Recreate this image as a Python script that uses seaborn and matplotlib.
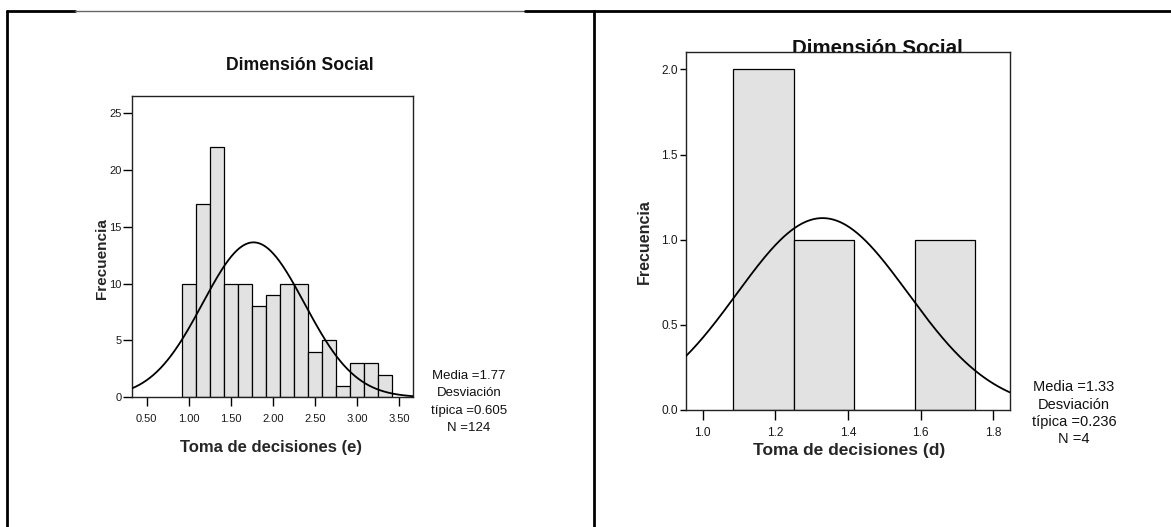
import numpy as np
import pandas as pd
import matplotlib
matplotlib.use("Agg")
import matplotlib.pyplot as plt
from matplotlib.lines import Line2D
import seaborn as sns

# ---- data -------------------------------------------------------------
# Panel (e): score values (bin midpoints) and their frequencies
e_values = [1.00, 1.17, 1.33, 1.50, 1.67, 1.83, 2.00, 2.17, 2.33, 2.50,
            2.67, 2.83, 3.00, 3.17, 3.33]
e_counts = [10, 17, 22, 10, 10, 8, 9, 10, 10, 4, 5, 1, 3, 3, 2]
e_mean, e_sd, e_n = 1.77, 0.605, 124
e_xticks = [0.50, 1.00, 1.50, 2.00, 2.50, 3.00, 3.50]
e_yticks = [0, 5, 10, 15, 20, 25]

# Panel (d): individual scores
d_values = [1.17, 1.17, 1.33, 1.67]
d_mean, d_sd, d_n = 1.33, 0.236, 4
d_xticks = [1.0, 1.2, 1.4, 1.6, 1.8]
d_yticks = [0.0, 0.5, 1.0, 1.5, 2.0]

title = "Dimensión Social"
ylabel = "Frecuencia"
e_xlabel = "Toma de decisiones (e)"
d_xlabel = "Toma de decisiones (d)"

BIN_W = 1 / 6

# ---- style ------------------------------------------------------------
sns.set_theme(style="white")
plt.rcParams["font.family"] = ["Liberation Sans", "DejaVu Sans"]

W, H = 1171, 527
fig = plt.figure(figsize=(W / 100, H / 100), dpi=100)
fig.patch.set_facecolor("white")


def px_axes(left, top, right, bottom):
    return fig.add_axes([left / W, 1 - bottom / H, (right - left) / W, (bottom - top) / H])


def normal_curve(ax, mean, sd, n, xlim):
    xs = np.linspace(xlim[0], xlim[1], 400)
    ys = n * BIN_W * np.exp(-0.5 * ((xs - mean) / sd) ** 2) / (sd * np.sqrt(2 * np.pi))
    ax.plot(xs, ys, color="black", lw=1.3, zorder=4)


def style_axes(ax, xticks, yticks, xfmt, yfmt, fs, xlen, xpad, ylen, ypad):
    ax.set_xticks(xticks)
    ax.set_xticklabels([xfmt.format(v) for v in xticks], fontsize=fs)
    ax.set_yticks(yticks)
    ax.set_yticklabels([yfmt.format(v) for v in yticks], fontsize=fs)
    ax.tick_params(axis="x", direction="out", length=xlen, width=1, color="black",
                   pad=xpad, bottom=True, labelcolor="#1a1a1a")
    ax.tick_params(axis="y", direction="out", length=ylen, width=1, color="black",
                   pad=ypad, left=True, labelcolor="#1a1a1a")
    for s in ax.spines.values():
        s.set_visible(True)
        s.set_color("#222222")
        s.set_linewidth(1.0)
    ax.set_facecolor("white")


# ---- panel (e) ----------------------------------------------------------
ax1 = px_axes(132.3, 96, 413, 397.3)
e_df = pd.DataFrame({"score": e_values, "freq": e_counts})
e_start = 0.9167
e_bins = [e_start + BIN_W * i for i in range(len(e_values) + 1)]
sns.histplot(data=e_df, x="score", weights="freq", bins=e_bins, ax=ax1,
             color="#e2e2e2", edgecolor="black", linewidth=0.9, alpha=1)
e_xlim = (0.329, 3.666)
ax1.set_xlim(*e_xlim)
ax1.set_ylim(0, 26.5)
normal_curve(ax1, e_mean, e_sd, e_n, e_xlim)
style_axes(ax1, e_xticks, e_yticks, "{:.2f}", "{:d}", 8, 6.5, 5.8, 6.5, 1.0)
ax1.set_xlabel(e_xlabel, fontsize=12, fontweight="bold", va="center")
ax1.xaxis.set_label_coords(0.494, -0.165)
ax1.set_ylabel(ylabel, fontsize=11, fontweight="bold", va="center")
ax1.yaxis.set_label_coords(-0.109, 0.462)

# ---- panel (d) ----------------------------------------------------------
ax2 = px_axes(686, 51.7, 1010, 410)
d_df = pd.DataFrame({"score": d_values})
d_start = 1.0833
d_bins = [d_start + BIN_W * i for i in range(5)]
sns.histplot(data=d_df, x="score", bins=d_bins, ax=ax2,
             color="#e2e2e2", edgecolor="black", linewidth=0.9, alpha=1)
d_xlim = (0.954, 1.846)
ax2.set_xlim(*d_xlim)
ax2.set_ylim(0, 2.104)
normal_curve(ax2, d_mean, d_sd, d_n, d_xlim)
style_axes(ax2, d_xticks, d_yticks, "{:.1f}", "{:.1f}", 8.6, 7, 5.4, 4.5, 1.5)
ax2.set_xlabel(d_xlabel, fontsize=12.5, fontweight="bold", va="center")
ax2.xaxis.set_label_coords(0.503, -0.1144)
ax2.set_ylabel(ylabel, fontsize=11.5, fontweight="bold", va="center")
ax2.yaxis.set_label_coords(-0.1296, 0.4697)

# ---- titles (the right one sits partly behind its plot frame) ----------
fig.text(300 / W, 1 - 70 / H, title, ha="center", va="baseline",
         fontsize=12.7, fontweight="bold", color="#111111")
fig.text(877 / W, 1 - 53.7 / H, title, ha="center", va="baseline",
         fontsize=14.8, fontweight="bold", color="#111111", zorder=-1)

# ---- summary statistics ------------------------------------------------
def stats_block(xc, y0, mean, sd, n, fs):
    lines = [f"Media ={mean:.2f}", "Desviación", f"típica ={sd:.3f}", f"N ={n}"]
    for i, line in enumerate(lines):
        fig.text(xc / W, 1 - (y0 + i * 17.3) / H, line, ha="center",
                 va="center", fontsize=fs, color="#111111")


stats_block(469, 376, e_mean, e_sd, e_n, 9.5)
stats_block(1074, 387.3, d_mean, d_sd, d_n, 10.5)

# ---- outer frame -------------------------------------------------------
frame = [
    ((7, 75), (11, 11), 2.0, "black"),
    ((75, 525), (11, 11), 1.0, "#666666"),
    ((525, 1171), (11, 11), 2.0, "black"),
    ((7, 7), (11, 527), 2.0, "black"),
    ((594, 594), (11, 527), 2.0, "black"),
]
for xs, ys, lw, c in frame:
    fig.add_artist(Line2D([x / W for x in xs], [1 - y / H for y in ys],
                          transform=fig.transFigure, lw=lw, color=c))

fig.savefig("out.png", dpi=100, facecolor="white")
